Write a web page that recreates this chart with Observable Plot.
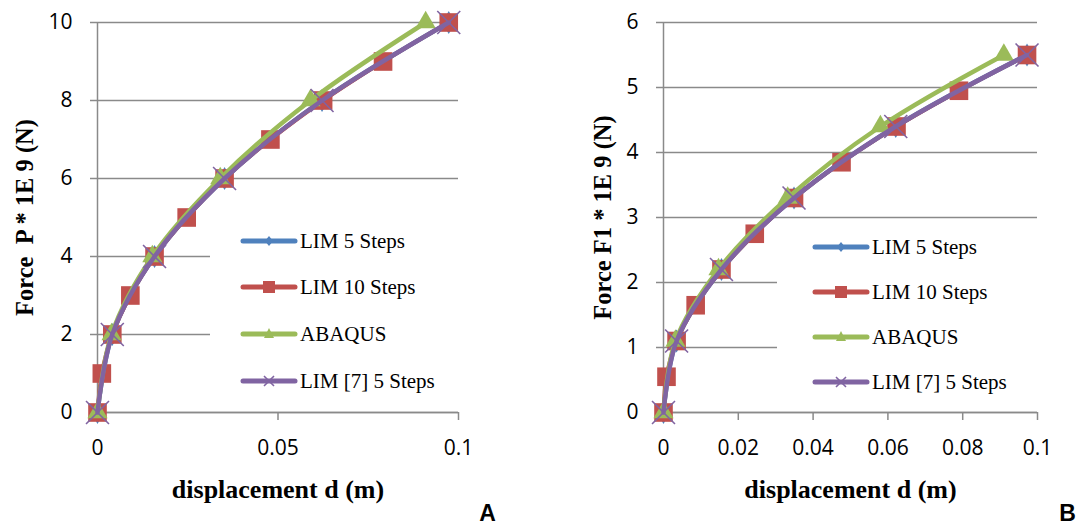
<!DOCTYPE html>
<html>
<head>
<meta charset="utf-8">
<script src="https://cdn.jsdelivr.net/npm/d3@7"></script>
<script src="https://cdn.jsdelivr.net/npm/@observablehq/plot@0.6"></script>
<style>
  html, body { margin: 0; padding: 0; background: #fff; }
  #root { position: relative; width: 1078px; height: 525px; overflow: hidden; background: #fff; }
  .panel { position: absolute; top: 0; }
  .legend { position: absolute; background: #fff; font-family: "Liberation Serif", "Times New Roman", serif; font-size: 21px; color: #000; }
  .legend .row { position: absolute; left: 0; height: 30px; display: flex; align-items: center; white-space: nowrap; }
  .legend svg { display: block; }
  .pre { white-space: pre; }
</style>
</head>
<body>
<div id="root"></div>
<script>
// ---------- shared series definitions ----------
const seriesNames   = ["LIM 5 Steps", "LIM 10 Steps", "ABAQUS", "LIM [7] 5 Steps"];
const seriesColors  = ["#4F81BD", "#C0504D", "#9BBB59", "#8064A2"];
const seriesSymbols = ["diamond", "square", "triangle", "times"];

// ---------- panel A : Force P * 1E 9 (N) vs displacement d (m) ----------
const aLim5D   = [0, 0.0041, 0.0158, 0.0352, 0.0622, 0.0973];
const aLim5P   = [0, 2, 4, 6, 8, 10];
const aLim10D  = [0, 0.0012, 0.0041, 0.0091, 0.0158, 0.0247, 0.0352, 0.0479, 0.0625, 0.0791, 0.0973];
const aLim10P  = [0, 1, 2, 3, 4, 5, 6, 7, 8, 9, 10];
const aAbaqusD = [0, 0.0039, 0.0152, 0.0340, 0.0590, 0.0909];
const aAbaqusP = [0, 2, 4, 6, 8, 10];
const aLim7D   = [0, 0.0041, 0.0158, 0.0352, 0.0622, 0.0973];
const aLim7P   = [0, 2, 4, 6, 8, 10];
const aXTicks  = [0, 0.05, 0.1];
const aYTicks  = [0, 2, 4, 6, 8, 10];

// ---------- panel B : Force F1 * 1E 9 (N) vs displacement d (m) ----------
const bLim5D   = [0, 0.0035, 0.0155, 0.0349, 0.0621, 0.0972];
const bLim5F   = [0, 1.1, 2.2, 3.3, 4.4, 5.5];
const bLim10D  = [0, 0.0008, 0.0035, 0.0086, 0.0155, 0.0244, 0.0349, 0.0476, 0.0623, 0.0790, 0.0972];
const bLim10F  = [0, 0.55, 1.1, 1.65, 2.2, 2.75, 3.3, 3.85, 4.4, 4.95, 5.5];
const bAbaqusD = [0, 0.0032, 0.0147, 0.0332, 0.0580, 0.0910];
const bAbaqusF = [0, 1.1, 2.2, 3.3, 4.4, 5.5];
const bLim7D   = [0, 0.0035, 0.0155, 0.0349, 0.0621, 0.0972];
const bLim7F   = [0, 1.1, 2.2, 3.3, 4.4, 5.5];
const bXTicks  = [0, 0.02, 0.04, 0.06, 0.08, 0.1];
const bYTicks  = [0, 1, 2, 3, 4, 5, 6];

const GRID = "#8a8a8a";
const fmt = d => String(d);

function rowsOf(xs, ys) { return xs.map((x, i) => ({x, y: ys[i]})); }

function seriesMarks(list) {
  const marks = [];
  list.forEach((rows, i) => {
    const c = seriesColors[i];
    marks.push(Plot.line(rows, {x: "x", y: "y", stroke: c, strokeWidth: i === 1 ? 4 : 4.5, curve: "catmull-rom", strokeLinecap: "round", strokeLinejoin: "round"}));
    if (seriesSymbols[i] === "times") {
      marks.push(Plot.dot(rows, {x: "x", y: "y", symbol: "times", r: 10.5, stroke: c, strokeWidth: 1.6}));
    } else if (seriesSymbols[i] === "square") {
      marks.push(Plot.dot(rows, {x: "x", y: "y", symbol: "square", r: 10.5, fill: c, stroke: "none"}));
    } else if (seriesSymbols[i] === "triangle") {
      marks.push(Plot.dot(rows, {x: "x", y: "y", symbol: "triangle", r: 7.5, fill: c, stroke: "none"}));
    } else {
      marks.push(Plot.dot(rows, {x: "x", y: "y", symbol: "diamond", r: 7, fill: c, stroke: "none"}));
    }
  });
  return marks;
}

function makePanel(cfg) {
  return Plot.plot({
    width: cfg.width, height: 525,
    marginLeft: cfg.ml, marginRight: cfg.mr, marginTop: 22, marginBottom: 113,
    x: {domain: [0, 0.1], label: null},
    y: {domain: cfg.yDomain, label: null},
    style: {fontFamily: "'Open Sans', sans-serif", fontSize: "21px", color: "#000", background: "transparent", overflow: "visible"},
    marks: [
      Plot.gridY(cfg.yTicks, {stroke: GRID, strokeOpacity: 1, strokeWidth: 1.5}),
      Plot.ruleX([0], {stroke: GRID, strokeWidth: 1.5}),
      Plot.ruleY([0], {stroke: GRID, strokeWidth: 1.5}),
      Plot.axisY(cfg.yTicks, {tickSize: 7, tickPadding: 18, stroke: GRID, strokeWidth: 1.5, fill: "#000", tickFormat: fmt, label: null}),
      Plot.axisX(cfg.xTicks, {tickSize: 8, tickPadding: 20, stroke: GRID, strokeWidth: 1.5, fill: "#000", tickFormat: fmt, label: null}),
      ...seriesMarks(cfg.series),
      Plot.text([cfg.yTitle], {text: d => d, frameAnchor: "left", dx: cfg.yTitleDx, rotate: -90, textAnchor: "middle", lineAnchor: "middle",
        fontFamily: "'Liberation Serif', serif", fontWeight: "bold", fontSize: 24.5, fill: "#000", className: "pre"}),
      Plot.text([cfg.xTitle], {text: d => d, frameAnchor: "bottom", dy: 77, textAnchor: "middle", lineAnchor: "middle",
        fontFamily: "'Liberation Serif', serif", fontWeight: "bold", fontSize: 26, fill: "#000"}),
      Plot.text([cfg.tag], {text: d => d, frameAnchor: "bottom-right", dx: cfg.tagDx, dy: 101, textAnchor: "middle", lineAnchor: "middle",
        fontFamily: "'Liberation Sans', Arial, sans-serif", fontWeight: "bold", fontSize: 23, fill: "#000"})
    ]
  });
}

function swatch(i) {
  const c = seriesColors[i];
  const w = 58, h = 14, cy = 7, cx = 29;
  let m = "";
  if (seriesSymbols[i] === "diamond") m = `<path d="M${cx},${cy-5}L${cx+4},${cy}L${cx},${cy+5}L${cx-4},${cy}Z" fill="${c}"/>`;
  if (seriesSymbols[i] === "square") m = `<rect x="${cx-6}" y="${cy-6}" width="12" height="12" fill="${c}"/>`;
  if (seriesSymbols[i] === "triangle") m = `<path d="M${cx},${cy-6}L${cx+5},${cy+4}L${cx-5},${cy+4}Z" fill="${c}"/>`;
  if (seriesSymbols[i] === "times") m = `<path d="M${cx-5},${cy-5}L${cx+5},${cy+5}M${cx+5},${cy-5}L${cx-5},${cy+5}" stroke="${c}" stroke-width="1.6"/>`;
  return `<svg width="${w}" height="${h}"><line x1="3" y1="${cy}" x2="${w-3}" y2="${cy}" stroke="${c}" stroke-width="5" stroke-linecap="round"/>${m}</svg>`;
}

function makeLegend(box) {
  const div = document.createElement("div");
  div.className = "legend";
  Object.assign(div.style, {left: box.left + "px", top: box.top + "px", width: box.width + "px", height: box.height + "px"});
  seriesNames.forEach((name, i) => {
    const row = document.createElement("div");
    row.className = "row";
    row.style.top = (box.rows[i] - 15) + "px";
    row.style.left = box.swatchLeft + "px";
    row.innerHTML = swatch(i) + `<span style="margin-left:2px">${name}</span>`;
    div.appendChild(row);
  });
  return div;
}

const root = document.getElementById("root");

const panelA = makePanel({
  width: 540, ml: 97, mr: 82, yDomain: [0, 10], xTicks: aXTicks, yTicks: aYTicks,
  series: [rowsOf(aLim5D, aLim5P), rowsOf(aLim10D, aLim10P), rowsOf(aAbaqusD, aAbaqusP), rowsOf(aLim7D, aLim7P)],
  yTitle: "Force  P * 1E 9 (N)", yTitleDx: -72, xTitle: "displacement d (m)", tag: "A", tagDx: 29
});
panelA.classList.add("panel");
panelA.style.left = "0px";
root.appendChild(panelA);

const panelB = makePanel({
  width: 538, ml: 123, mr: 41, yDomain: [0, 6], xTicks: bXTicks, yTicks: bYTicks,
  series: [rowsOf(bLim5D, bLim5F), rowsOf(bLim10D, bLim10F), rowsOf(bAbaqusD, bAbaqusF), rowsOf(bLim7D, bLim7F)],
  yTitle: "Force F1 * 1E 9 (N)", yTitleDx: -60, xTitle: "displacement d (m)", tag: "B", tagDx: 30
});
panelB.classList.add("panel");
panelB.style.left = "540px";
root.appendChild(panelB);

root.appendChild(makeLegend({left: 210, top: 215, width: 262, height: 188, swatchLeft: 30, rows: [26, 72, 119, 166]}));
root.appendChild(makeLegend({left: 777, top: 222, width: 265, height: 181, swatchLeft: 35, rows: [25, 70, 115, 160]}));
</script>
</body>
</html>
